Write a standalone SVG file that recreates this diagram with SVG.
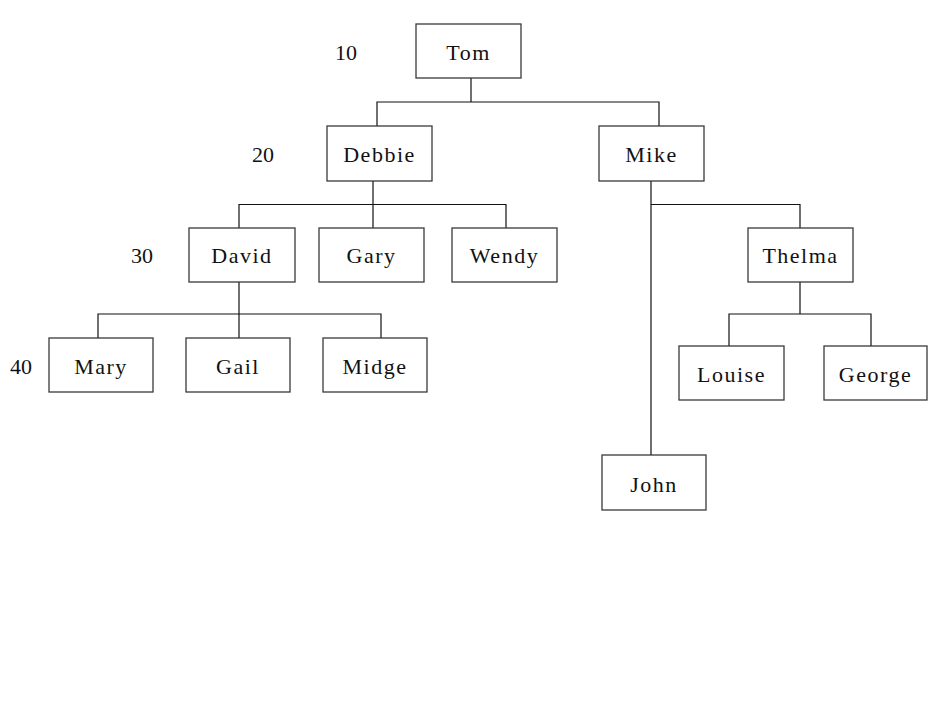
<svg xmlns="http://www.w3.org/2000/svg" width="940" height="705" viewBox="0 0 940 705">
<style>
.box{fill:#fff;stroke:#3a3a3a;stroke-width:1.3}
.lbl{font-family:"Liberation Serif","Times New Roman",serif;font-size:22px;fill:#111;text-anchor:middle;letter-spacing:1.5px}
.num{font-family:"Liberation Serif","Times New Roman",serif;font-size:22px;fill:#111}
.con{fill:none;stroke:#111;stroke-width:1.2}
</style>
<rect width="940" height="705" fill="#fff"/>
<g id="levels">
<text class="num" x="335" y="60">10</text>
<text class="num" x="252" y="162">20</text>
<text class="num" x="131" y="263">30</text>
<text class="num" x="10" y="374">40</text>
</g>
<g id="connectors">
<path class="con" d="M471,78V102M377,126V102H659V126"/>
<path class="con" d="M373,181V228M239,228V204.5H506V228"/>
<path class="con" d="M651,181V455M651,204.5H800V228"/>
<path class="con" d="M239,282V338M98,338V314H381V338"/>
<path class="con" d="M800,282V314M729,346V314H871V346"/>
</g>
<g id="tom"><rect class="box" x="416" y="24" width="105" height="54"/><text class="lbl" x="468.5" y="60">Tom</text></g>
<g id="debbie"><rect class="box" x="327" y="126" width="105" height="55"/><text class="lbl" x="379.5" y="162">Debbie</text></g>
<g id="mike"><rect class="box" x="599" y="126" width="105" height="55"/><text class="lbl" x="651.5" y="162">Mike</text></g>
<g id="david"><rect class="box" x="189" y="228" width="106" height="54"/><text class="lbl" x="242" y="263">David</text></g>
<g id="gary"><rect class="box" x="319" y="228" width="105" height="54"/><text class="lbl" x="371.5" y="263">Gary</text></g>
<g id="wendy"><rect class="box" x="452" y="228" width="105" height="54"/><text class="lbl" x="504.5" y="263">Wendy</text></g>
<g id="thelma"><rect class="box" x="748" y="228" width="105" height="54"/><text class="lbl" x="800.5" y="263">Thelma</text></g>
<g id="mary"><rect class="box" x="49" y="338" width="104" height="54"/><text class="lbl" x="101" y="374">Mary</text></g>
<g id="gail"><rect class="box" x="186" y="338" width="104" height="54"/><text class="lbl" x="238" y="374">Gail</text></g>
<g id="midge"><rect class="box" x="323" y="338" width="104" height="54"/><text class="lbl" x="375" y="374">Midge</text></g>
<g id="louise"><rect class="box" x="679" y="346" width="105" height="54"/><text class="lbl" x="731.5" y="382">Louise</text></g>
<g id="george"><rect class="box" x="824" y="346" width="103" height="54"/><text class="lbl" x="875.5" y="382">George</text></g>
<g id="john"><rect class="box" x="602" y="455" width="104" height="55"/><text class="lbl" x="654" y="492">John</text></g>
</svg>
